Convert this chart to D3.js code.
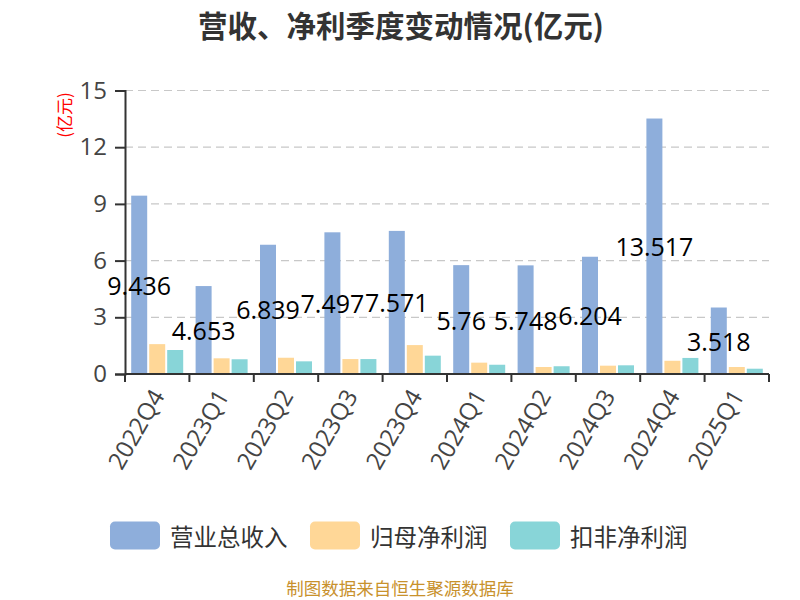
<!DOCTYPE html>
<html>
<head>
<meta charset="utf-8">
<script src="https://cdn.jsdelivr.net/npm/d3@7/dist/d3.min.js"></script>
<style>
  html, body { margin: 0; padding: 0; background: #fff; }
  svg { display: block; font-family: "Open Sans", "Noto Sans CJK SC", sans-serif; }
</style>
</head>
<body>
<svg id="chart" width="800" height="600"></svg>
<script>
const categories = ["2022Q4","2023Q1","2023Q2","2023Q3","2023Q4","2024Q1","2024Q2","2024Q3","2024Q4","2025Q1"];
const revenue = [9.436, 4.653, 6.839, 7.497, 7.571, 5.76, 5.748, 6.204, 13.517, 3.518];
const netProfit = [1.58, 0.83, 0.86, 0.79, 1.53, 0.60, 0.37, 0.44, 0.70, 0.37];
const deductedProfit = [1.27, 0.78, 0.67, 0.79, 0.97, 0.49, 0.41, 0.46, 0.85, 0.28];
const seriesNames = ["营业总收入", "归母净利润", "扣非净利润"];
const yTicks = [0, 3, 6, 9, 12, 15];
const colors = ["#8eaedb", "#ffd797", "#88d5d8"];
const titleText = "营收、净利季度变动情况(亿元)";
const unitText = "(亿元)";
const sourceText = "制图数据来自恒生聚源数据库";

const svg = d3.select("#chart");
const series = [revenue, netProfit, deductedProfit];

const x = d3.scaleBand().domain(categories).range([125, 769]).padding(0);
const y = d3.scaleLinear().domain([0, 15]).range([374, 90.5]);
const barW = 16, gap = 2;
const groupW = 3 * barW + 2 * gap;
const offset = (x.bandwidth() - groupW) / 2;

// title
svg.append("text").attr("x", 401).attr("y", 24)
  .attr("text-anchor", "middle").attr("dominant-baseline", "central")
  .style("font-family", "'Noto Sans CJK SC', sans-serif")
  .style("font-size", "29.5px").style("font-weight", "bold").style("fill", "#333")
  .text(titleText);

// grid
svg.append("g").selectAll("line").data(yTicks.filter(d => d > 0)).join("line")
  .attr("x1", 125).attr("x2", 769)
  .attr("y1", d => y(d)).attr("y2", d => y(d))
  .attr("stroke", "#c8c8c8").attr("stroke-width", 1.2)
  .attr("stroke-dasharray", "8,5");

// y axis
const yAxis = svg.append("g").attr("transform", "translate(125,0)")
  .call(d3.axisLeft(y).tickValues(yTicks).tickSize(10).tickPadding(8));
yAxis.select(".domain").attr("stroke", "#333").attr("stroke-width", 2);
yAxis.selectAll(".tick line").attr("stroke", "#333").attr("stroke-width", 2);
yAxis.selectAll(".tick text").style("font-size", "24px").style("fill", "#444")
  .style("font-family", "'Open Sans', sans-serif");

// unit label
svg.append("text").attr("transform", "translate(63,115) rotate(-90)")
  .attr("text-anchor", "middle").attr("dominant-baseline", "central")
  .style("font-family", "'Noto Sans CJK SC', sans-serif")
  .style("font-size", "17px").style("fill", "#ff0000").text(unitText);

// bars
series.forEach((vals, si) => {
  svg.append("g").selectAll("rect").data(vals).join("rect")
    .attr("x", (d, i) => x(categories[i]) + offset + si * (barW + gap))
    .attr("y", d => y(d))
    .attr("width", barW)
    .attr("height", d => y(0) - y(d))
    .attr("fill", colors[si]);
});

// x axis
const xAxis = svg.append("g").attr("transform", "translate(0,374)");
xAxis.append("line").attr("x1", 125).attr("x2", 769).attr("y1", 0).attr("y2", 0)
  .attr("stroke", "#333").attr("stroke-width", 2);
const boundaries = categories.map(c => x(c)).concat([x(categories[categories.length - 1]) + x.bandwidth()]);
xAxis.selectAll("line.tk").data(boundaries).join("line").attr("class", "tk")
  .attr("x1", d => d).attr("x2", d => d).attr("y1", 0).attr("y2", 8)
  .attr("stroke", "#333").attr("stroke-width", 2);
xAxis.selectAll("text").data(categories).join("text")
  .attr("transform", d => `translate(${x(d) + x.bandwidth() / 2},17) rotate(-60)`)
  .attr("text-anchor", "end").attr("dominant-baseline", "central")
  .style("font-family", "'Open Sans', sans-serif")
  .style("font-size", "24px").style("fill", "#444").text(d => d);

// value labels
svg.append("g").selectAll("text").data(revenue).join("text")
  .attr("x", (d, i) => x(categories[i]) + offset + barW / 2)
  .attr("y", d => (y(d) + y(0)) / 2)
  .attr("text-anchor", "middle").attr("dominant-baseline", "central")
  .style("font-family", "'Open Sans', sans-serif")
  .style("font-size", "25px").style("fill", "#000").text(d => d);

// legend
const legendX = [110, 310, 510];
const lg = svg.append("g");
seriesNames.forEach((name, i) => {
  lg.append("rect").attr("x", legendX[i]).attr("y", 521.5).attr("width", 50).attr("height", 28)
    .attr("rx", 5).attr("fill", colors[i]);
  lg.append("text").attr("x", legendX[i] + 60).attr("y", 535.5)
    .attr("dominant-baseline", "central")
    .style("font-family", "'Noto Sans CJK SC', sans-serif")
    .style("font-size", "23.5px").style("fill", "#333").text(name);
});

// source
svg.append("text").attr("x", 400).attr("y", 587)
  .attr("text-anchor", "middle").attr("dominant-baseline", "central")
  .style("font-family", "'Noto Sans CJK SC', sans-serif")
  .style("font-size", "17.5px").style("fill", "#c8912c").text(sourceText);
</script>
</body>
</html>
